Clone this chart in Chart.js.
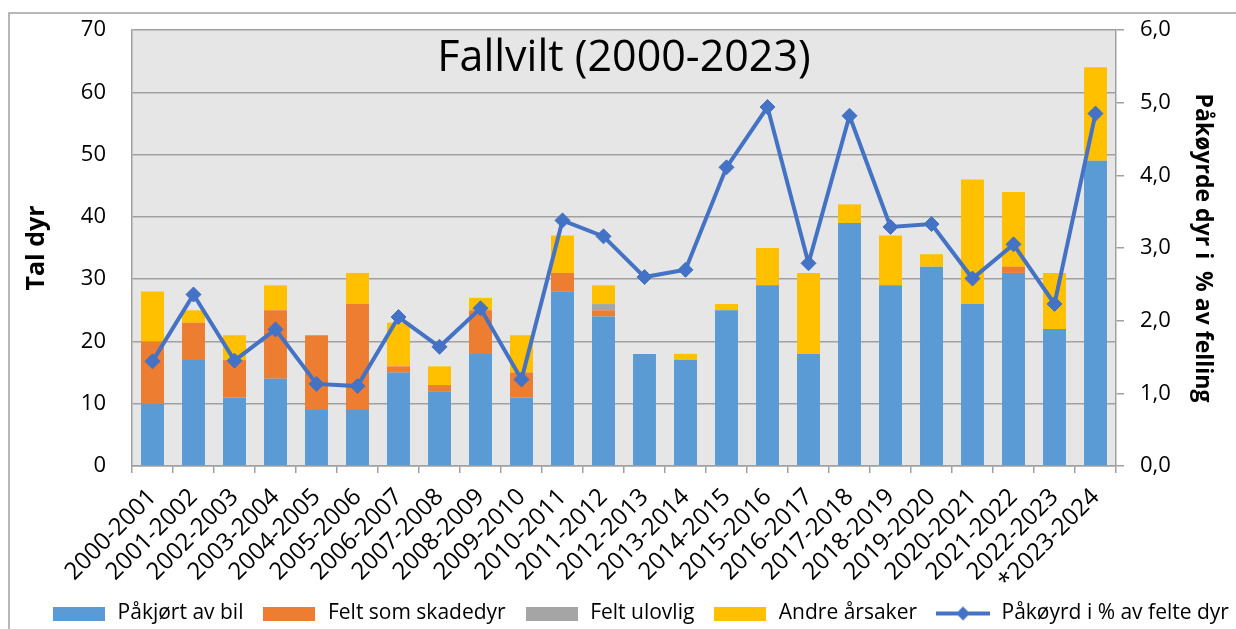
<!DOCTYPE html>
<html>
<head>
<meta charset="utf-8">
<script src="https://cdn.jsdelivr.net/npm/chart.js@4"></script>
<style>
  html, body { margin: 0; padding: 0; background: #fff; }
  #wrap { width: 1236px; height: 629px; }
</style>
</head>
<body>
<div id="wrap"><canvas id="myChart" width="1236" height="629"></canvas></div>
<script>
var categories = ['2000-2001', '2001-2002', '2002-2003', '2003-2004', '2004-2005', '2005-2006',
    '2006-2007', '2007-2008', '2008-2009', '2009-2010', '2010-2011', '2011-2012', '2012-2013',
    '2013-2014', '2014-2015', '2015-2016', '2016-2017', '2017-2018', '2018-2019', '2019-2020',
    '2020-2021', '2021-2022', '2022-2023', '*2023-2024'];

var pakjortAvBil = [10, 17, 11, 14, 9, 9, 15, 12, 18, 11, 28, 24, 18, 17, 25, 29, 18, 39, 29, 32, 26, 31, 22, 49];
var feltSomSkadedyr = [10, 6, 6, 11, 12, 17, 1, 1, 7, 4, 3, 1, 0, 0, 0, 0, 0, 0, 0, 0, 0, 1, 0, 0];
var feltUlovlig = [0, 0, 0, 0, 0, 0, 0, 0, 0, 0, 0, 1, 0, 0, 0, 0, 0, 0, 0, 0, 0, 0, 0, 0];
var andreArsaker = [8, 2, 4, 4, 0, 5, 7, 3, 2, 6, 6, 3, 0, 1, 1, 6, 13, 3, 8, 2, 20, 12, 9, 15];
var pakoyrdProsent = [1.44, 2.36, 1.45, 1.88, 1.13, 1.10, 2.05, 1.64, 2.17, 1.19, 3.38, 3.16, 2.60, 2.70,
    4.11, 4.94, 2.79, 4.82, 3.29, 3.33, 2.58, 3.05, 2.23, 4.85];

var leftTicks = [0, 10, 20, 30, 40, 50, 60, 70];
var rightTicks = [0, 1, 2, 3, 4, 5, 6];

var FONT = "'Open Sans', 'DejaVu Sans', sans-serif";
var BLUE = '#5B9BD5', ORANGE = '#ED7D31', GREY = '#A5A5A5', YELLOW = '#FFC000', LINE = '#4472C4';

// legend symbols as small canvases
function boxImage(color) {
    var c = document.createElement('canvas');
    c.width = 52; c.height = 14;
    var g = c.getContext('2d');
    g.fillStyle = color;
    g.fillRect(0, 0, 52, 14);
    return c;
}
function lineImage(color) {
    var c = document.createElement('canvas');
    c.width = 54; c.height = 16;
    var g = c.getContext('2d');
    g.strokeStyle = color;
    g.lineWidth = 4;
    g.beginPath(); g.moveTo(0, 8); g.lineTo(54, 8); g.stroke();
    g.fillStyle = color;
    g.beginPath(); g.moveTo(27, 1); g.lineTo(34, 8); g.lineTo(27, 15); g.lineTo(20, 8); g.closePath(); g.fill();
    return c;
}
var legendImages = [boxImage(BLUE), boxImage(ORANGE), boxImage(GREY), boxImage(YELLOW), lineImage(LINE)];

var framePlugin = {
    id: 'frame',
    beforeDraw: function(chart) {
        var ctx = chart.ctx, a = chart.chartArea;
        ctx.save();
        ctx.fillStyle = '#fff';
        ctx.fillRect(0, 0, chart.width, chart.height);
        ctx.strokeStyle = '#a0a0a0';
        ctx.lineWidth = 1.5;
        ctx.strokeRect(9, 13, chart.width + 20, chart.height + 20);
        ctx.fillStyle = '#E6E6E6';
        ctx.fillRect(a.left, a.top, a.right - a.left, a.bottom - a.top);
        ctx.restore();
    }
};

function barSet(label, data, color) {
    return {
        type: 'bar', label: label, data: data, backgroundColor: color,
        yAxisID: 'y', stack: 's', order: 1,
        barPercentage: 0.56, categoryPercentage: 1.0
    };
}

var ctx = document.getElementById('myChart').getContext('2d');
var myChart = new Chart(ctx, {
    data: {
        labels: categories,
        datasets: [
            barSet('Påkjørt av bil', pakjortAvBil, BLUE),
            barSet('Felt som skadedyr', feltSomSkadedyr, ORANGE),
            barSet('Felt ulovlig', feltUlovlig, GREY),
            barSet('Andre årsaker', andreArsaker, YELLOW),
            {
                type: 'line', label: 'Påkøyrd i % av felte dyr', data: pakoyrdProsent,
                yAxisID: 'y1', order: 0,
                borderColor: LINE, backgroundColor: LINE, borderWidth: 4,
                pointStyle: 'rectRot', pointRadius: 7.5, pointBorderWidth: 1,
                pointBackgroundColor: LINE, pointBorderColor: LINE, tension: 0
            }
        ]
    },
    options: {
        responsive: false,
        animation: false,
        layout: { padding: { left: 10, right: -34, top: 0, bottom: -5 } },
        plugins: {
            tooltip: { enabled: false },
            title: {
                display: true,
                text: 'Fallvilt (2000-2023)',
                color: '#000',
                fullSize: false,
                font: { family: FONT, size: 43, weight: 'normal' },
                padding: { top: 33, bottom: -54.6 }
            },
            legend: {
                position: 'bottom',
                labels: {
                    usePointStyle: true,
                    pointStyleWidth: 56,
                    boxHeight: 14,
                    padding: 18,
                    color: '#000',
                    font: { family: FONT, size: 21 },
                    generateLabels: function(chart) {
                        var items = Chart.defaults.plugins.legend.labels.generateLabels(chart);
                        items.sort(function(a, b) { return a.datasetIndex - b.datasetIndex; });
                        items.forEach(function(it) {
                            it.pointStyle = legendImages[it.datasetIndex];
                            it.lineWidth = 0;
                        });
                        return items;
                    }
                }
            }
        },
        scales: {
            x: {
                offset: true,
                grid: { offset: true, drawOnChartArea: false, drawTicks: true, tickLength: 7, color: '#a0a0a0', lineWidth: 1.5 },
                border: { color: '#a0a0a0', width: 1.5 },
                ticks: {
                    color: '#000', autoSkip: false, minRotation: 45, maxRotation: 45, padding: 10,
                    font: { family: FONT, size: 24 }
                },
                afterFit: function(scale) { scale.height = 119; }
            },
            y: {
                position: 'left', stacked: true, min: 0, max: 70,
                afterBuildTicks: function(scale) { scale.ticks = leftTicks.map(function(v) { return { value: v }; }); },
                grid: { color: '#a0a0a0', lineWidth: 1.5, drawTicks: true, tickLength: 20, tickColor: 'rgba(0,0,0,0)' },
                border: { color: '#a0a0a0', width: 1.5 },
                ticks: { color: '#000', padding: 6, font: { family: FONT, size: 22 } },
                title: {
                    display: true, text: 'Tal dyr', color: '#000',
                    font: { family: FONT, size: 25, weight: 'bold' },
                    padding: { top: 12, bottom: 0 }
                },
                afterFit: function(scale) { scale.width = 122; }
            },
            y1: {
                position: 'right', min: 0, max: 6,
                afterBuildTicks: function(scale) { scale.ticks = rightTicks.map(function(v) { return { value: v }; }); },
                grid: { drawOnChartArea: false, drawTicks: true, tickLength: 8, color: '#a0a0a0', lineWidth: 1.5 },
                border: { color: '#a0a0a0', width: 1.5 },
                ticks: {
                    color: '#000', padding: 16, font: { family: FONT, size: 22 },
                    callback: function(v) { return v.toFixed(1).replace('.', ','); }
                },
                title: {
                    display: true, text: 'Påkøyrde dyr i  % av felling', color: '#000',
                    font: { family: FONT, size: 23, weight: 'bold' },
                    padding: { top: 54, bottom: 0 }
                },
                afterFit: function(scale) { scale.width = 154; }
            }
        }
    },
    plugins: [framePlugin]
});
</script>
</body>
</html>
